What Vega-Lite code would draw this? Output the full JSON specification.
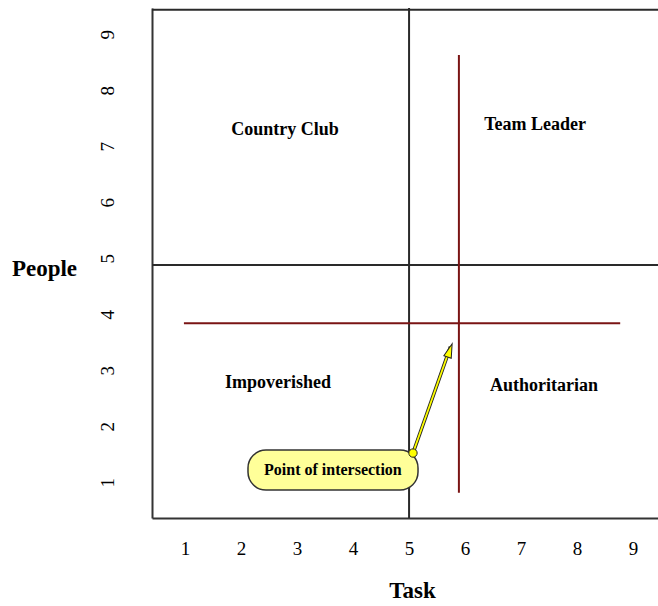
{
  "$schema": "https://vega.github.io/schema/vega-lite/v6.json",
  "autosize": {"type": "none"},
  "width": 506,
  "height": 510,
  "padding": {"left": 152, "top": 8, "right": 0, "bottom": 88},
  "background": "white",
  "config": {
    "view": {"stroke": null},
    "font": "Liberation Serif"
  },
  "datasets": {
    "frame": [
      {"x": 0.41, "x2": 9.445, "y": 9.44, "y2": 9.44},
      {"x": 5.0, "x2": 5.0, "y": 0.36, "y2": 9.47},
      {"x": 0.41, "x2": 9.445, "y": 4.88, "y2": 4.88}
    ],
    "lines": [
      {"x": 0.98, "x2": 8.77, "y": 3.84, "y2": 3.84},
      {"x": 5.89, "x2": 5.89, "y": 0.81, "y2": 8.63}
    ],
    "labels": [
      {"x": 2.785, "y": 7.29, "label": "Country Club"},
      {"x": 7.25, "y": 7.38, "label": "Team Leader"},
      {"x": 2.66, "y": 2.77, "label": "Impoverished"},
      {"x": 7.41, "y": 2.72, "label": "Authoritarian"}
    ],
    "box": [
      {"x": 2.124, "x2": 5.16, "y": 0.86, "y2": 1.574, "label": "Point of intersection", "cx": 3.64, "cy": 1.217}
    ],
    "arrow": [
      {"x": 5.07, "y": 1.52},
      {"x": 5.74, "y": 3.42}
    ],
    "arrowStart": [{"x": 5.07, "y": 1.52}],
    "arrowHead": [{"x": 5.72, "y": 3.33}]
  },
  "layer": [
    {
      "data": {"name": "frame"},
      "mark": {"type": "rule", "color": "#2a2a2a", "strokeWidth": 2},
      "encoding": {
        "x": {
          "field": "x", "type": "quantitative",
          "scale": {"domain": [0.41, 9.445], "nice": false, "zero": false},
          "axis": {
            "values": [1, 2, 3, 4, 5, 6, 7, 8, 9], "format": "d",
            "ticks": false, "tickSize": 0, "grid": false,
            "domainColor": "#333333", "domainWidth": 2,
            "labelFont": "Liberation Serif", "labelFontSize": 19, "labelColor": "#000000",
            "labelPadding": 21,
            "title": "Task", "titleFont": "Liberation Serif", "titleFontSize": 23, "titleFontWeight": "bold",
            "titleColor": "#000000", "titleX": 260, "titleY": 72, "titleAlign": "center", "titleBaseline": "middle"
          }
        },
        "x2": {"field": "x2"},
        "y": {
          "field": "y", "type": "quantitative",
          "scale": {"domain": [0.36, 9.47], "nice": false, "zero": false},
          "axis": {
            "values": [1, 2, 3, 4, 5, 6, 7, 8, 9], "format": "d",
            "ticks": false, "tickSize": 0, "grid": false,
            "domainColor": "#333333", "domainWidth": 2,
            "labelFont": "Liberation Serif", "labelFontSize": 19, "labelColor": "#000000",
            "labelAngle": -90, "labelPadding": 35, "labelAlign": "center", "labelBaseline": "bottom",
            "title": "People", "titleFont": "Liberation Serif", "titleFontSize": 23, "titleFontWeight": "bold",
            "titleColor": "#000000", "titleAngle": 0, "titleX": -108, "titleY": 260,
            "titleAlign": "center", "titleBaseline": "middle"
          }
        },
        "y2": {"field": "y2"}
      }
    },
    {
      "data": {"name": "lines"},
      "mark": {"type": "rule", "color": "#7a1414", "strokeWidth": 2},
      "encoding": {
        "x": {"field": "x", "type": "quantitative"},
        "x2": {"field": "x2"},
        "y": {"field": "y", "type": "quantitative"},
        "y2": {"field": "y2"}
      }
    },
    {
      "data": {"name": "labels"},
      "mark": {"type": "text", "font": "Liberation Serif", "fontSize": 18, "fontWeight": "bold", "color": "#000000", "align": "center", "baseline": "middle"},
      "encoding": {
        "x": {"field": "x", "type": "quantitative"},
        "y": {"field": "y", "type": "quantitative"},
        "text": {"field": "label"}
      }
    },
    {
      "data": {"name": "arrow"},
      "mark": {"type": "line", "color": "#222222", "strokeWidth": 3.5},
      "encoding": {
        "x": {"field": "x", "type": "quantitative"},
        "y": {"field": "y", "type": "quantitative"}
      }
    },
    {
      "data": {"name": "arrow"},
      "mark": {"type": "line", "color": "#ffff00", "strokeWidth": 1.8},
      "encoding": {
        "x": {"field": "x", "type": "quantitative"},
        "y": {"field": "y", "type": "quantitative"}
      }
    },
    {
      "data": {"name": "arrowHead"},
      "mark": {"type": "point", "shape": "M0,-1.2L0.55,0.8L-0.55,0.8Z", "filled": true, "fill": "#ffff00", "stroke": "#222222", "strokeWidth": 1, "size": 200, "angle": 19, "opacity": 1},
      "encoding": {
        "x": {"field": "x", "type": "quantitative"},
        "y": {"field": "y", "type": "quantitative"}
      }
    },
    {
      "data": {"name": "box"},
      "mark": {"type": "rect", "fill": "#ffff99", "stroke": "#333333", "strokeWidth": 1.5, "cornerRadius": 18},
      "encoding": {
        "x": {"field": "x", "type": "quantitative"},
        "x2": {"field": "x2"},
        "y": {"field": "y", "type": "quantitative"},
        "y2": {"field": "y2"}
      }
    },
    {
      "data": {"name": "box"},
      "mark": {"type": "text", "font": "Liberation Serif", "fontSize": 16, "fontWeight": "bold", "color": "#000000", "align": "center", "baseline": "middle"},
      "encoding": {
        "x": {"field": "cx", "type": "quantitative"},
        "y": {"field": "cy", "type": "quantitative"},
        "text": {"field": "label"}
      }
    },
    {
      "data": {"name": "arrowStart"},
      "mark": {"type": "point", "shape": "circle", "filled": true, "fill": "#ffff00", "stroke": "#222222", "strokeWidth": 1, "size": 70, "opacity": 1},
      "encoding": {
        "x": {"field": "x", "type": "quantitative"},
        "y": {"field": "y", "type": "quantitative"}
      }
    }
  ]
}
